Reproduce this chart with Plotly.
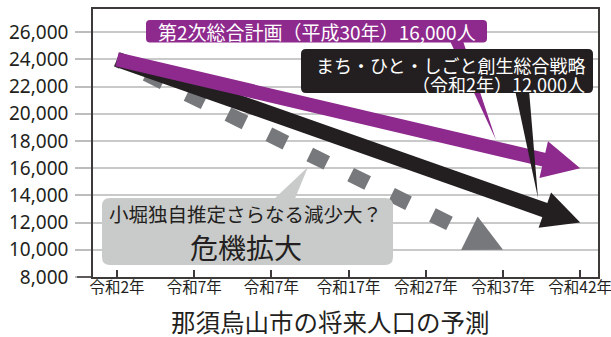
import plotly.graph_objects as go

# ---------------- data ----------------
x_labels = ['令和2年', '令和7年', '令和7年', '令和17年', '令和27年', '令和37年', '令和42年']
x_pos = [0, 1, 2, 3, 4, 5, 6]
y_ticks = [8000, 10000, 12000, 14000, 16000, 18000, 20000, 22000, 24000, 26000]

plan_x = [0, 6]          # 第2次総合計画（平成30年）16,000人
plan_y = [24000, 16000]
strategy_x = [0, 6]      # まち・ひと・しごと創生総合戦略（令和2年）12,000人
strategy_y = [24000, 12000]
estimate_x = [0, 5]      # 小堀独自推定
estimate_y = [24000, 10000]

# ---------------- layout constants ----------------
W, H = 611, 337
ML, MR, MT, MB = 93, 13, 9, 60
PW, PH = W - ML - MR, H - MT - MB
XR = [-0.3109, 6.2306]
YR = [8000, 27706]

PURPLE = '#8e2a8d'
BLACK = '#231f20'
GRAY = '#77787b'
LIGHT = '#c9caca'
FRAME = '#3e3a39'
JP = 'Noto Sans CJK JP'


def px(xp):
    return (xp - ML) / PW


def py(yp):
    return (H - MB - yp) / PH


def pt(xp, yp):
    return f'{px(xp):.5f},{py(yp):.5f}'


def rrect(x0, y0, x1, y1, r):
    return ('M' + pt(x0 + r, y0) + ' L' + pt(x1 - r, y0) +
            ' Q' + pt(x1, y0) + ' ' + pt(x1, y0 + r) +
            ' L' + pt(x1, y1 - r) + ' Q' + pt(x1, y1) + ' ' + pt(x1 - r, y1) +
            ' L' + pt(x0 + r, y1) + ' Q' + pt(x0, y1) + ' ' + pt(x0, y1 - r) +
            ' L' + pt(x0, y0 + r) + ' Q' + pt(x0, y0) + ' ' + pt(x0 + r, y0) + ' Z')


def tri(a, b, c):
    return 'M' + pt(*a) + ' L' + pt(*b) + ' L' + pt(*c) + ' Z'


def along(xs, ys, f):
    return xs[0] + f * (xs[1] - xs[0]), ys[0] + f * (ys[1] - ys[0])


fig = go.Figure()

SHAFT_F = 0.95
dash = '5.9px,26.6px' + ',19px,26.6px' * 12

series = [
    (estimate_x, estimate_y, GRAY, 15, dash),
    (strategy_x, strategy_y, BLACK, 15, 'solid'),
    (plan_x, plan_y, PURPLE, 14, 'solid'),
]
annotations = []
for xs, ys, col, w, d in series:
    ex, ey = along(xs, ys, SHAFT_F)
    fig.add_trace(go.Scatter(x=[xs[0], ex], y=[ys[0], ey], mode='lines',
                             line=dict(color=col, width=w, dash=d),
                             hoverinfo='skip', showlegend=False))
    tx, ty = along(xs, ys, 0.93)
    annotations.append(dict(x=xs[1], y=ys[1], ax=tx, ay=ty, xref='x', yref='y',
                            axref='x', ayref='y', text='', showarrow=True,
                            arrowhead=2, arrowwidth=2, arrowsize=3.75,
                            arrowcolor=col))

shapes = [
    # extended bottom axis line
    dict(type='line', xref='paper', yref='paper', x0=px(77), x1=0, y0=0, y1=0,
         line=dict(color=FRAME, width=1.5), layer='above'),
    # purple callout
    dict(type='path', xref='paper', yref='paper', path=tri((450, 41), (463, 41), (496, 140)),
         fillcolor=PURPLE, line=dict(width=0), layer='above'),
    dict(type='path', xref='paper', yref='paper', path=rrect(146, 20, 487, 42.5, 4),
         fillcolor=PURPLE, line=dict(width=0), layer='above'),
    # black callout
    dict(type='path', xref='paper', yref='paper', path=tri((515, 90), (529, 90), (538, 198)),
         fillcolor=BLACK, line=dict(width=0), layer='above'),
    dict(type='path', xref='paper', yref='paper', path=rrect(301, 49, 593, 93, 5),
         fillcolor=BLACK, line=dict(width=0), layer='above'),
    # gray callout
    dict(type='path', xref='paper', yref='paper', path=tri((272, 201), (294, 201), (308, 167)),
         fillcolor=LIGHT, line=dict(width=0), layer='above'),
    dict(type='path', xref='paper', yref='paper', path=rrect(102, 198, 393, 265, 8),
         fillcolor=LIGHT, line=dict(width=0), layer='above'),
]


def label(text, xp, yp, size, color, xanchor='center'):
    annotations.append(dict(text=text, x=px(xp), y=py(yp), xref='paper', yref='paper',
                            xanchor=xanchor, yanchor='middle', showarrow=False,
                            font=dict(family=JP, size=size, color=color)))


label('第2次総合計画（平成30年）16,000人', 317, 31.5, 19, 'white')
label('まち・ひと・しごと創生総合戦略', 587, 64.5, 18, 'white', 'right')
label('（令和2年）12,000人', 587, 84, 18, 'white', 'right')
label('小堀独自推定さらなる減少大？', 245, 213, 19.5, BLACK)
label('危機拡大', 246, 247, 28, BLACK)
label('那須烏山市の将来人口の予測', 330, 321, 24.5, BLACK)

fig.update_layout(
    width=W, height=H,
    margin=dict(l=ML, r=MR, t=MT, b=MB, autoexpand=False),
    paper_bgcolor='white', plot_bgcolor='white',
    shapes=shapes, annotations=annotations, showlegend=False,
    xaxis=dict(range=XR, tickvals=x_pos, ticktext=x_labels, ticks='inside', ticklen=7,
               tickwidth=1.5, tickcolor=FRAME, showgrid=False, zeroline=False,
               showline=True, linecolor=FRAME, linewidth=1.5, mirror=True,
               ticklabeloverflow='allow', ticklabelstandoff=-4, automargin=False,
               tickfont=dict(family=JP, size=15.5, color=BLACK)),
    yaxis=dict(range=YR, tickvals=y_ticks, tickformat=',d', ticks='outside', ticklen=16,
               tickwidth=1.5, tickcolor='#bdbdbd', showgrid=True, gridcolor='#c9c9c9',
               gridwidth=1.5, zeroline=False, showline=True, linecolor=FRAME,
               linewidth=1.5, mirror=True, ticklabelstandoff=3, automargin=False,
               tickfont=dict(family='Noto Sans', size=19, color=BLACK)),
)

fig.write_html('out.html')
